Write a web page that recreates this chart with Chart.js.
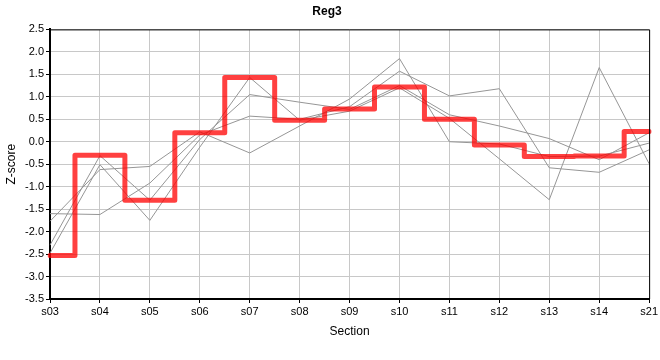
<!DOCTYPE html>
<html>
<head>
<meta charset="utf-8">
<script src="https://cdn.jsdelivr.net/npm/chart.js@4"></script>
<style>
  html, body { margin: 0; padding: 0; background: #fff; }
  #wrap { width: 660px; height: 360px; }
</style>
</head>
<body>
<div id="wrap"><canvas id="c" width="660" height="360"></canvas></div>
<script>
const sections = ['s03','s04','s05','s06','s07','s08','s09','s10','s11','s12','s13','s14','s21'];
const reg3  = [-2.53, -0.30, -1.30, 0.20, 1.43, 0.48, 0.73, 1.22, 0.50, -0.07, -0.33, -0.32, 0.23];
const gray1 = [-1.60, -1.62, -0.92, 0.15, 0.57, 0.50, 0.78, 1.57, 1.02, 1.18, -0.58, -0.68, -0.18];
const gray2 = [-2.30, -0.31, -1.30, 0.05, 1.05, 0.88, 0.72, 1.25, 0.60, 0.35, 0.07, -0.40, 0.20];
const gray3 = [-2.48, -0.51, -1.75, -0.12, 1.43, 0.48, 0.68, 1.20, 0.52, -0.38, -1.29, 1.65, -0.49];
const gray4 = [-1.77, -0.62, -0.55, 0.22, -0.25, 0.35, 0.95, 1.85, 0.00, -0.05, -0.33, -0.32, -0.03];
const yMin = -3.5, yMax = 2.5, yStep = 0.5;

const FONT = "'Liberation Sans', Arial, sans-serif";

const frame = {
  id: 'frame',
  afterDatasetsDraw(chart) {
    const a = chart.chartArea, ctx = chart.ctx;
    ctx.save();
    ctx.strokeStyle = '#000';
    ctx.lineWidth = 1;
    ctx.beginPath();
    ctx.moveTo(a.left, a.top + 0.5);
    ctx.lineTo(a.right + 0.5, a.top + 0.5);
    ctx.lineTo(a.right + 0.5, a.bottom);
    ctx.stroke();
    ctx.restore();
  }
};

function grayDs(data) {
  return { data, borderColor: 'rgb(150,150,150)', borderWidth: 1, pointRadius: 0, fill: false, tension: 0, order: 2 };
}

new Chart(document.getElementById('c'), {
  type: 'line',
  data: {
    labels: sections,
    datasets: [
      { data: reg3, borderColor: 'rgba(255,0,0,0.75)', borderWidth: 5, stepped: 'middle', pointRadius: 0, fill: false, order: 1, borderJoinStyle: 'round', borderCapStyle: 'round' },
      grayDs(gray1), grayDs(gray2), grayDs(gray3), grayDs(gray4)
    ]
  },
  options: {
    responsive: false,
    animation: false,
    events: [],
    layout: { padding: { left: 4, right: 10, top: 0, bottom: 21 } },
    plugins: {
      legend: { display: false },
      tooltip: { enabled: false },
      title: { display: true, text: 'Reg3', color: '#000', font: { family: FONT, size: 12, weight: 'bold' }, padding: { top: 4, bottom: 11 } }
    },
    scales: {
      x: {
        type: 'category',
        offset: false,
        grid: { color: '#c8c8c8', lineWidth: 1, tickLength: 4, tickColor: '#000', drawTicks: true },
        border: { color: '#000', width: 2 },
        ticks: { color: '#000', font: { family: FONT, size: 11 }, padding: 2, maxRotation: 0, autoSkip: false },
        title: { display: true, text: 'Section', color: '#000', font: { family: FONT, size: 12 }, padding: { top: 2, bottom: 0 } },
        afterFit(s) { s.height = 40; }
      },
      y: {
        min: yMin, max: yMax,
        grid: { color: '#c8c8c8', lineWidth: 1, tickLength: 4, tickColor: '#000' },
        border: { color: '#000', width: 2 },
        ticks: { stepSize: yStep, color: '#000', font: { family: FONT, size: 11 }, padding: 2,
                 callback: v => Number(v).toFixed(1) },
        title: { display: true, text: 'Z-score', color: '#000', font: { family: FONT, size: 12 }, padding: { top: 0, bottom: 2 } },
        afterFit(s) { s.width = 46; }
      }
    }
  },
  plugins: [frame]
});
</script>
</body>
</html>
